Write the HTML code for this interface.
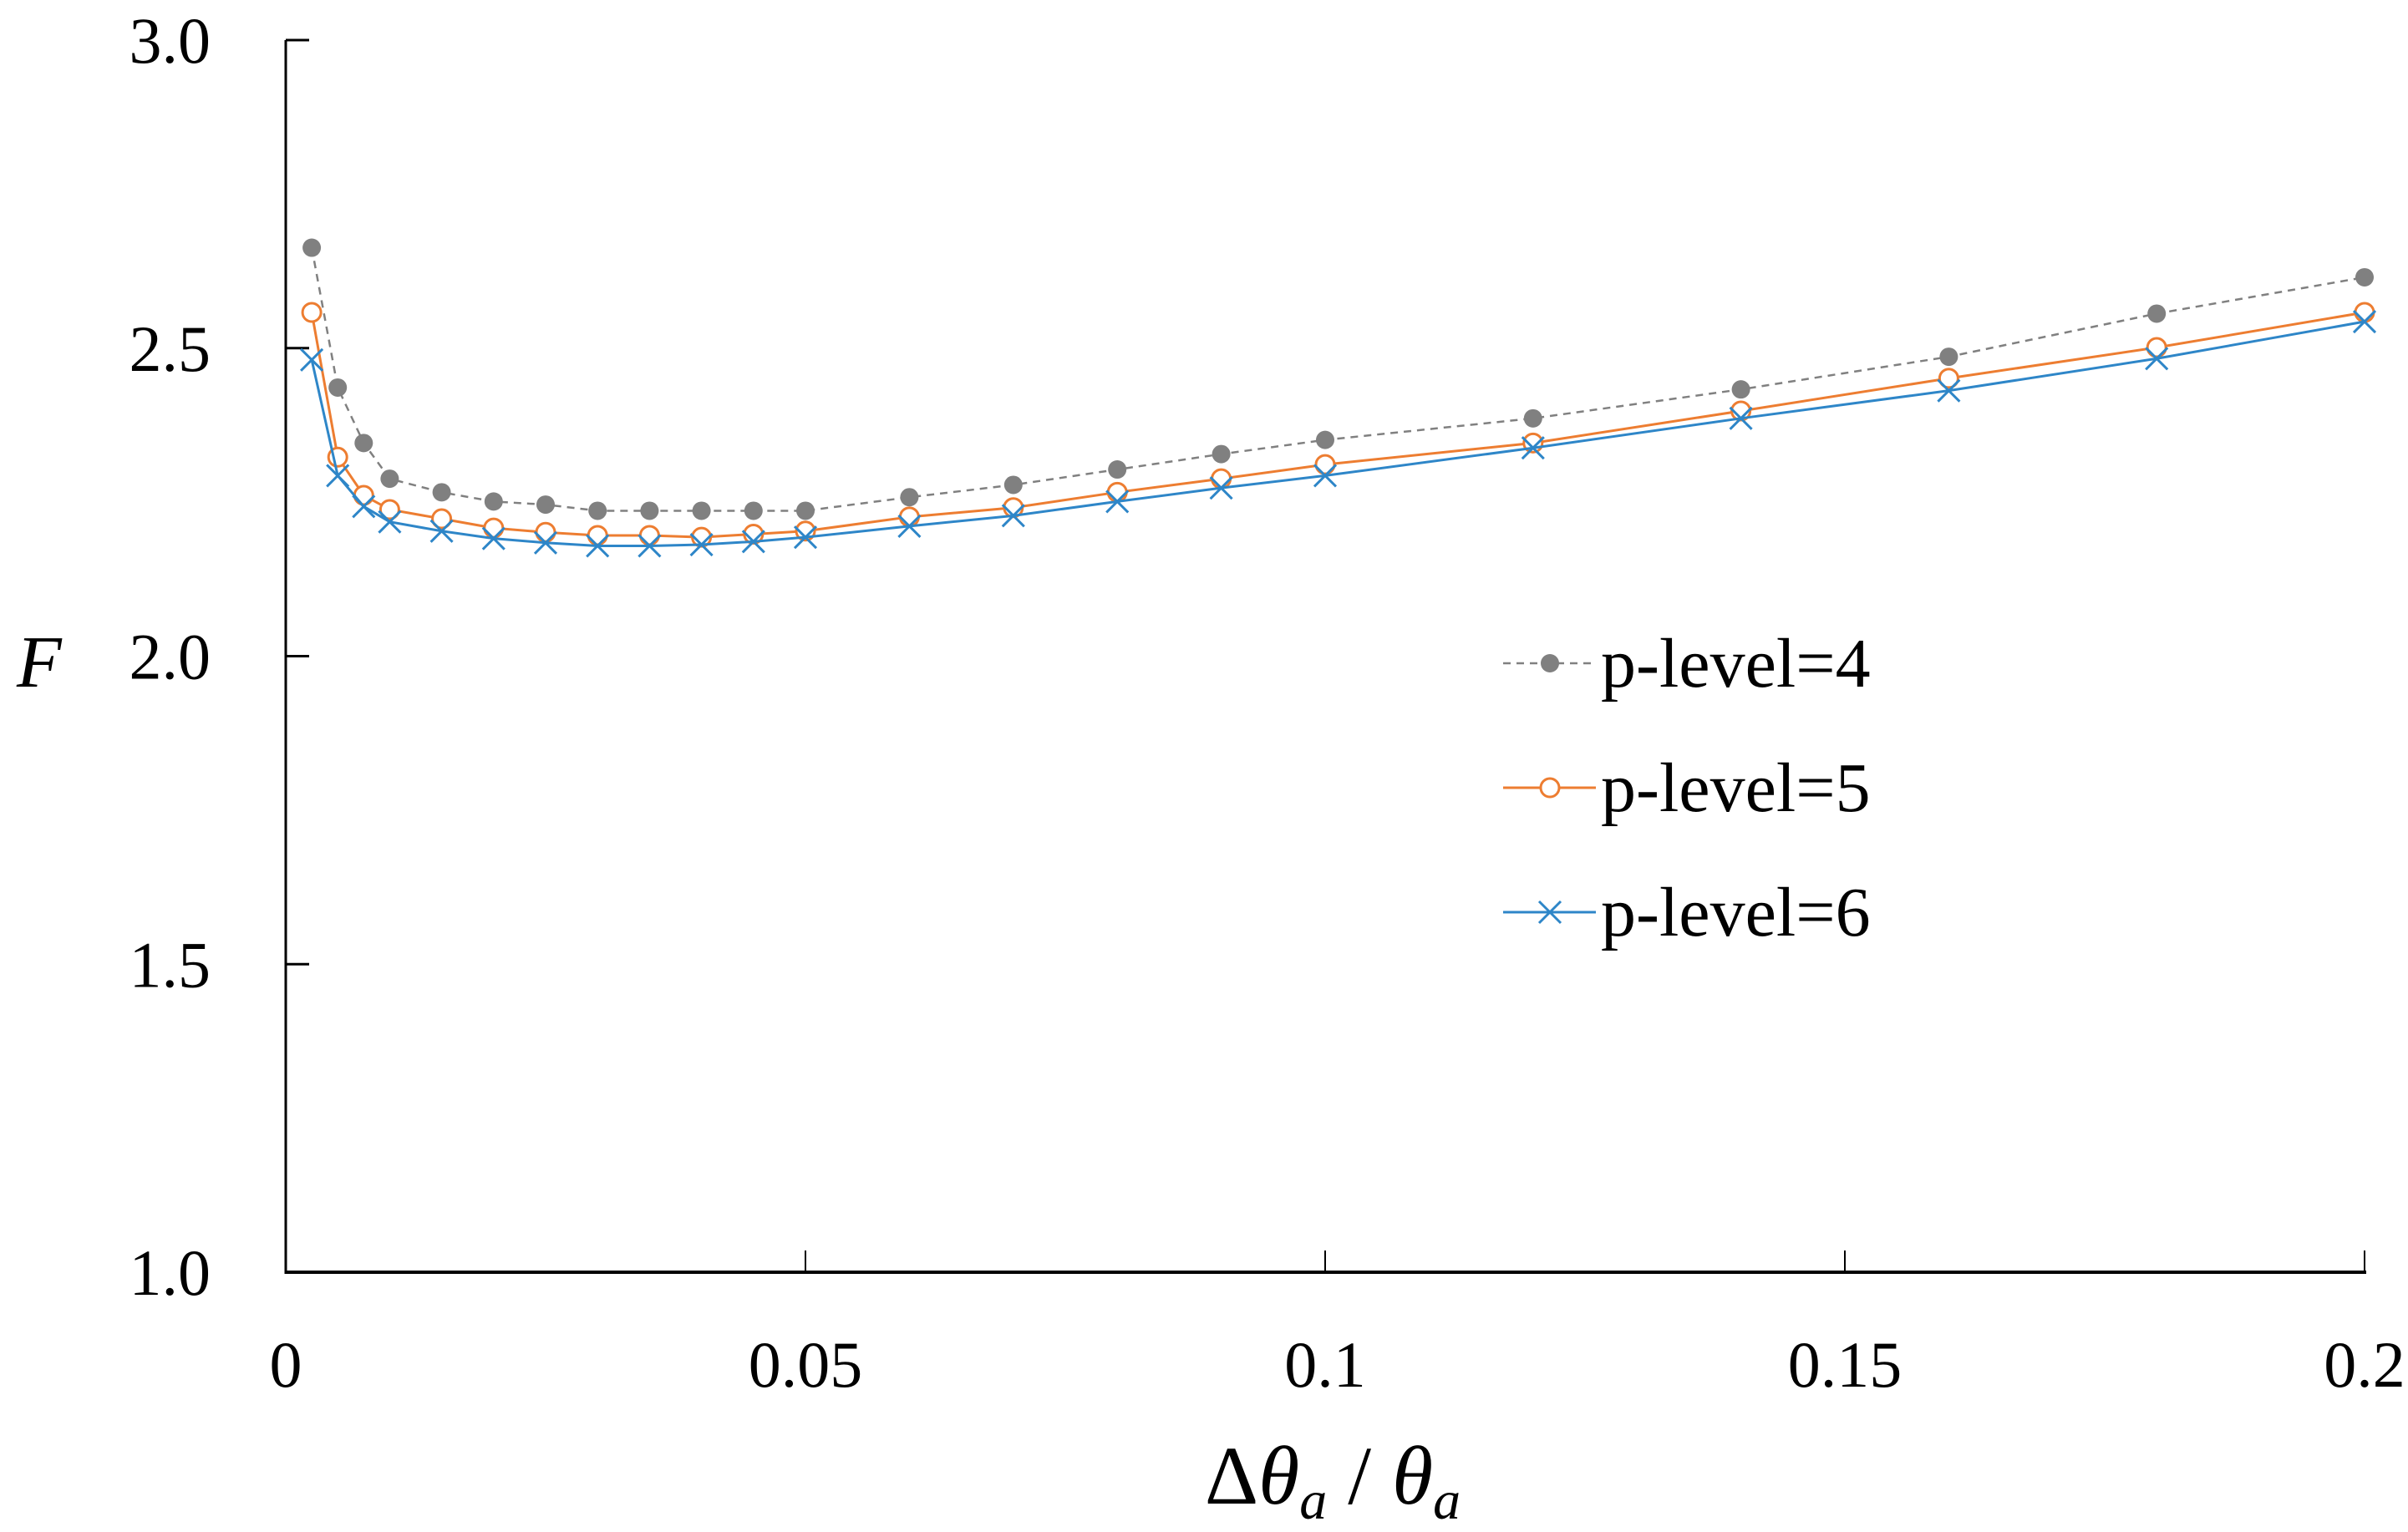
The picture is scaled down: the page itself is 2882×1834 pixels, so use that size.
<!DOCTYPE html>
<html><head><meta charset="utf-8"><style>
html,body{margin:0;padding:0;background:#fff}
svg{display:block;font-family:"Liberation Serif",serif}
</style></head><body>
<svg id="chart" width="2882" height="1834" viewBox="0 0 2882 1834">
<g id="axes"></g>
<g id="series"></g>
<g id="legend"></g>
</svg>
<script>
const xValues=[0.0025,0.005,0.0075,0.01,0.015,0.02,0.025,0.03,0.035,0.04,0.045,0.05,0.06,0.07,0.08,0.09,0.1,0.12,0.14,0.16,0.18,0.2];
const p4=[2.663,2.436,2.346,2.288,2.266,2.251,2.246,2.236,2.236,2.236,2.236,2.236,2.258,2.278,2.303,2.328,2.351,2.386,2.433,2.486,2.556,2.615];
const p5=[2.558,2.323,2.261,2.238,2.223,2.208,2.201,2.196,2.196,2.193,2.198,2.203,2.226,2.241,2.266,2.288,2.311,2.346,2.398,2.451,2.501,2.558];
const p6=[2.481,2.293,2.243,2.218,2.203,2.191,2.184,2.179,2.179,2.181,2.186,2.193,2.211,2.228,2.251,2.273,2.293,2.338,2.386,2.431,2.483,2.543];
const xTicks=[0,0.05,0.1,0.15,0.2];
const xTickLabels=["0","0.05","0.1","0.15","0.2"];
const yTicks=[1.0,1.5,2.0,2.5,3.0];
const yTickLabels=["1.0","1.5","2.0","2.5","3.0"];
const legendLabels=["p-level=4","p-level=5","p-level=6"];

const NS="http://www.w3.org/2000/svg";
const X0=342,X1=2830,Y0=1523,Y1=48;
const sx=v=>X0+(v-0)/(0.2-0)*(X1-X0);
const sy=v=>Y0-(v-1)/(3-1)*(Y0-Y1);
function mk(tag,attrs,parent){const e=document.createElementNS(NS,tag);for(const k in attrs)e.setAttribute(k,attrs[k]);parent.appendChild(e);return e;}
const axes=document.getElementById('axes'),ser=document.getElementById('series'),leg=document.getElementById('legend');

let a=mk('line',{x1:X0,y1:Y0,x2:X1+2,y2:Y0,stroke:'#000','stroke-width':4},axes);

a=mk('line',{x1:X0,y1:Y0+2,x2:X0,y2:Y1,stroke:'#000','stroke-width':3},axes);

xTicks.forEach((t,i)=>{
 const x=sx(t);
 if(i>0){const tk=mk('line',{x1:x,y1:Y0,x2:x,y2:Y0-26,stroke:'#000','stroke-width':2},axes);
 }
 const tx=mk('text',{x:x,y:1660,'font-size':78,'text-anchor':'middle'},axes);tx.textContent=xTickLabels[i];
 
});
yTicks.forEach((t,i)=>{
 const y=sy(t);
 if(i>0){const tk=mk('line',{x1:X0,y1:y,x2:X0+28,y2:y,stroke:'#000','stroke-width':3},axes);
 }
 const tx=mk('text',{x:252,y:y+27,'font-size':78,'text-anchor':'end'},axes);tx.textContent=yTickLabels[i];
 
});
let t=mk('text',{x:20,y:822,'font-size':88,'font-style':'italic'},axes);t.textContent='F';

t=mk('text',{x:1595,y:1800,'font-size':100,'text-anchor':'middle'},axes);
t.innerHTML='Δ<tspan font-style="italic">θ</tspan><tspan font-style="italic" font-size="66" dy="18">a</tspan><tspan dy="-18"> / </tspan><tspan font-style="italic">θ</tspan><tspan font-style="italic" font-size="66" dy="18">a</tspan>';


const colors=['#808080','#ED7D31','#2E86C8'];
function marker(kind,x,y,g){
 let m;
 if(kind===0)m=mk('circle',{cx:x,cy:y,r:11,fill:'#808080'},g);
 else if(kind===1)m=mk('circle',{cx:x,cy:y,r:11,fill:'#fff',stroke:'#ED7D31','stroke-width':3},g);
 else m=mk('path',{d:`M${x-13},${y-13}L${x+13},${y+13}M${x-13},${y+13}L${x+13},${y-13}`,stroke:'#2E86C8','stroke-width':3,fill:'none'},g);
 return m;
}
[p4,p5,p6].forEach((vals,k)=>{
 const g=mk('g',{},ser);
 
 const pts=vals.map((v,i)=>sx(xValues[i])+','+sy(v)).join(' ');
 const pl=mk('polyline',{points:pts,fill:'none',stroke:colors[k],'stroke-width':k===0?2.5:3,'stroke-dasharray':k===0?'9 7':'none'},g);
 
 vals.forEach((v,i)=>{const m=marker(k,sx(xValues[i]),sy(v),g);
  });
});
legendLabels.forEach((lab,k)=>{
 const y=794+k*149;
 const g=mk('g',{},leg);
 
 mk('line',{x1:1799,y1:y,x2:1910,y2:y,stroke:colors[k],'stroke-width':k===0?2.5:3,'stroke-dasharray':k===0?'9 7':'none'},g);
 marker(k,1855,y,g);
 const tx=mk('text',{x:1916,y:y+28,'font-size':84},g);tx.textContent=lab;
 
});
</script>
</body></html>
